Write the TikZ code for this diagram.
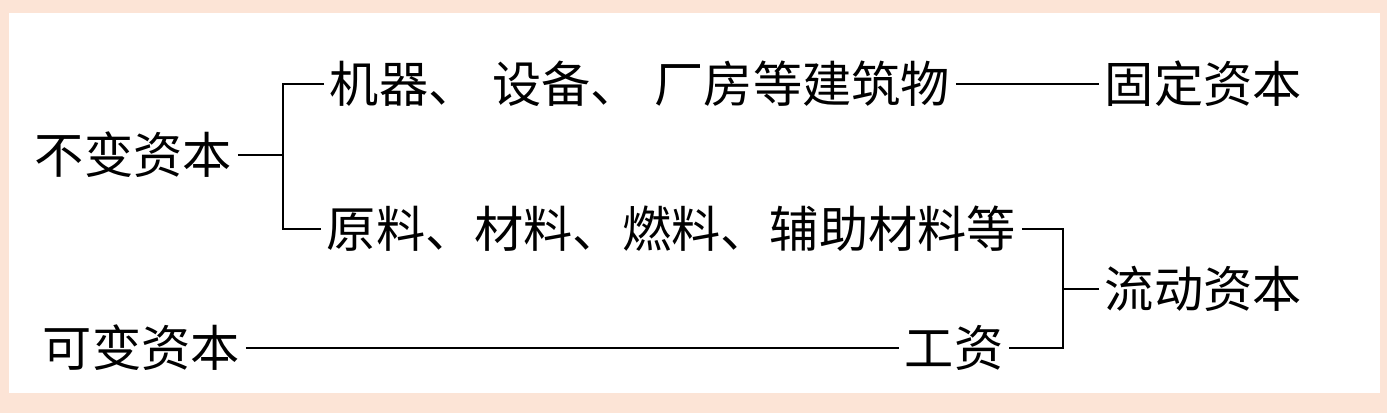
\documentclass[tikz,border=0pt]{standalone}
\usepackage{fontspec}
\newfontfamily\cjk{Noto Sans CJK SC}
\usetikzlibrary{positioning}
\definecolor{bpeach}{HTML}{FCE4D6}
\tikzset{
  lbl/.style={font=\cjk\fontsize{14}{17}\selectfont,inner sep=1.5pt,anchor=west},
  ln/.style={line width=0.8pt,draw=black},
}
\begin{document}
\begin{tikzpicture}
  % fundo
  \fill[bpeach] (0,0) rectangle (13.87,-4.13);
  \fill[white] (0.09,-0.13) rectangle (13.80,-3.93);
  % textos
  \node[lbl] (bu) at (0.29,-1.55) {不变资本};
  \node[lbl] (ji) at (3.24,-0.84) {机器、\hspace{.3em}设备、\hspace{.3em}厂房等建筑物};
  \node[lbl] (gu) at (10.99,-0.84) {固定资本};
  \node[lbl] (yuan) at (3.21,-2.29) {原料、材料、燃料、辅助材料等};
  \node[lbl] (liu) at (10.99,-2.89) {流动资本};
  \node[lbl] (ke) at (0.37,-3.48) {可变资本};
  \node[lbl] (gz) at (8.99,-3.48) {工资};
  % chaves
  \coordinate (bl) at (2.83,0);
  \coordinate (br) at (10.63,0);
  \draw[ln] (bu.east) -- (bu.east -| bl);
  \draw[ln] (ji.west) -- (ji.west -| bl) -- (yuan.west -| bl) -- (yuan.west);
  \draw[ln] (ji.east) -- (gu.west);
  \draw[ln] (yuan.east) -- (yuan.east -| br) -- (gz.east -| br) -- (gz.east);
  \draw[ln] (liu.west) -- (liu.west -| br);
  \draw[ln] (ke.east) -- (gz.west);
\end{tikzpicture}
\end{document}
